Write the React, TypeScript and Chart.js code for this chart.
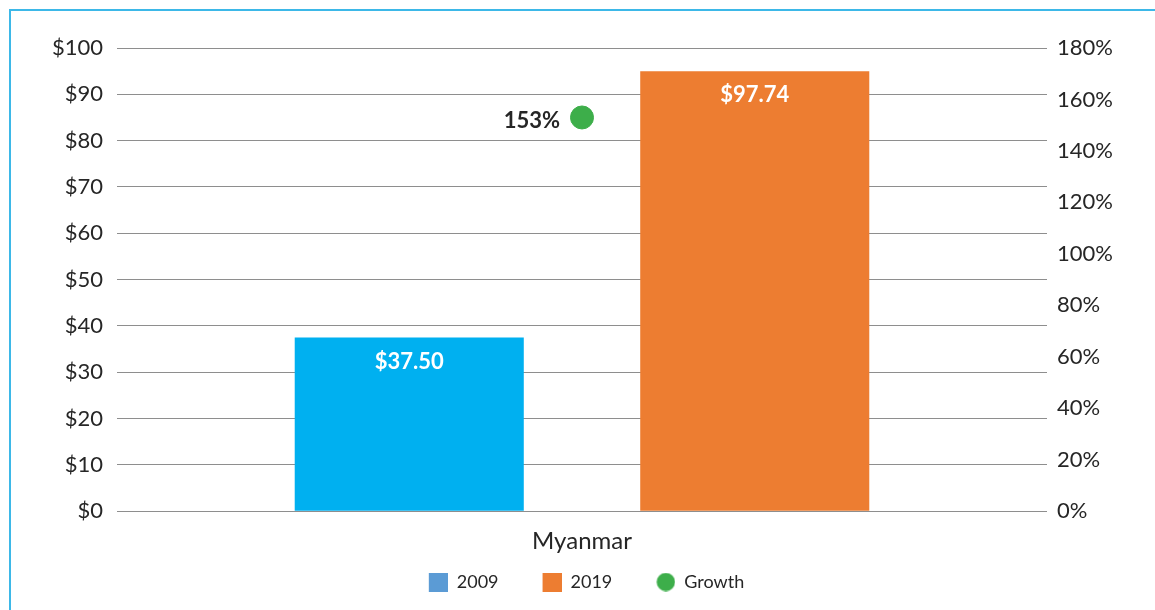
import React, { useEffect, useRef } from "react";
import { Chart, registerables } from "chart.js";

Chart.register(...registerables);

const categories = ["Myanmar"];
const series2009 = [37.5];
const series2019 = [95];
const growth = [153];
const barLabels2009 = ["$37.50"];
const barLabels2019 = ["$97.74"];
const growthLabels = ["153%"];
const legendNames = ["2009", "2019", "Growth"];

const FONT = "Lato, 'Open Sans', sans-serif";
const TEXT = "#262626";
const C2009 = "#00B0F0";
const C2009_LEGEND = "#5B9BD5";
const C2019 = "#ED7D31";
const CGROWTH = "#3DAE4A";

const ICON_GAP = 43;
const ICON = 19;

function makeIcon(color: string, shape: "rect" | "circle"): HTMLCanvasElement {
  const c = document.createElement("canvas");
  c.width = ICON_GAP + ICON;
  c.height = ICON;
  const ctx = c.getContext("2d")!;
  ctx.fillStyle = color;
  if (shape === "rect") {
    ctx.fillRect(ICON_GAP, 0, ICON, ICON);
  } else {
    ctx.beginPath();
    ctx.arc(ICON_GAP + ICON / 2, ICON / 2, 9.2, 0, Math.PI * 2);
    ctx.fill();
  }
  return c;
}

const labelPlugin = {
  id: "valueLabels",
  afterDatasetsDraw(chart: any) {
    const ctx = chart.ctx;
    ctx.save();
    ctx.textBaseline = "middle";
    const barSets = [barLabels2009, barLabels2019];
    [0, 1].forEach((di) => {
      const meta = chart.getDatasetMeta(di);
      meta.data.forEach((el: any, i: number) => {
        ctx.font = `bold 22px ${FONT}`;
        ctx.fillStyle = "#FFFFFF";
        ctx.textAlign = "center";
        ctx.fillText(barSets[di][i], el.x, el.y + 24);
      });
    });
    const gm = chart.getDatasetMeta(2);
    gm.data.forEach((el: any, i: number) => {
      ctx.font = `bold 22px ${FONT}`;
      ctx.fillStyle = TEXT;
      ctx.textAlign = "right";
      ctx.fillText(growthLabels[i], el.x - 22, el.y + 3);
    });
    ctx.restore();
  },
};

export default function App() {
  const ref = useRef<HTMLCanvasElement>(null);
  useEffect(() => {
    if (!ref.current) return;
    const icons = [
      makeIcon(C2009_LEGEND, "rect"),
      makeIcon(C2019, "rect"),
      makeIcon(CGROWTH, "circle"),
    ];
    const chart = new Chart(ref.current, {
      type: "bar",
      data: {
        labels: categories,
        datasets: [
          {
            label: legendNames[0],
            data: series2009,
            backgroundColor: C2009,
            yAxisID: "y",
            categoryPercentage: 0.743,
            barPercentage: 0.663,
            order: 2,
          },
          {
            label: legendNames[1],
            data: series2019,
            backgroundColor: C2019,
            yAxisID: "y",
            categoryPercentage: 0.743,
            barPercentage: 0.663,
            order: 2,
          },
          {
            type: "line",
            label: legendNames[2],
            data: growth,
            yAxisID: "y1",
            showLine: false,
            pointRadius: 11.5,
            pointHoverRadius: 11.5,
            pointBackgroundColor: CGROWTH,
            pointBorderColor: CGROWTH,
            backgroundColor: CGROWTH,
            borderColor: CGROWTH,
            order: 1,
          } as any,
        ],
      },
      options: {
        animation: false,
        responsive: false,
        layout: { padding: { top: 37, left: 0, right: 36, bottom: 9 } },
        plugins: {
          tooltip: { enabled: false },
          legend: {
            position: "bottom",
            labels: {
              usePointStyle: true,
              pointStyleWidth: ICON_GAP + ICON,
              boxHeight: 18,
              padding: 1,
              color: TEXT,
              font: { family: FONT, size: 18 },
              generateLabels: () =>
                legendNames.map((n, i) => ({
                  text: n,
                  pointStyle: icons[i],
                  fillStyle: "transparent",
                  strokeStyle: "transparent",
                  lineWidth: 0,
                  hidden: false,
                  datasetIndex: i,
                  fontColor: TEXT,
                })),
            },
          },
        },
        scales: {
          x: {
            grid: { display: false, drawTicks: false },
            border: { display: false },
            ticks: { color: TEXT, font: { family: FONT, size: 24 }, padding: 16 },
          },
          y: {
            position: "left",
            min: 0,
            max: 100,
            ticks: {
              stepSize: 10,
              color: TEXT,
              padding: 14,
              font: { family: FONT, size: 22 },
              callback: (v: any) => "$" + v,
            },
            grid: { color: "#8E8E8E", lineWidth: 1, drawTicks: false },
            border: { display: false },
            afterFit: (s: any) => {
              s.width = 106;
            },
          },
          y1: {
            position: "right",
            min: 0,
            max: 180,
            ticks: {
              stepSize: 20,
              color: TEXT,
              padding: 10,
              font: { family: FONT, size: 22 },
              callback: (v: any) => v + "%",
            },
            grid: { display: false, drawTicks: false },
            border: { display: false },
            afterFit: (s: any) => {
              s.width = 72;
            },
          },
        },
      },
      plugins: [labelPlugin],
    });
    return () => chart.destroy();
  }, []);

  return (
    <div
      style={{
        position: "fixed",
        left: 9,
        top: 9,
        right: 0,
        bottom: 0,
        borderTop: "2px solid #3DB8E8",
        borderLeft: "2px solid #3DB8E8",
        boxSizing: "border-box",
        background: "#fff",
      }}
    >
      <canvas ref={ref} width={1144} height={599} style={{ display: "block", width: 1144, height: 599 }} />
    </div>
  );
}
